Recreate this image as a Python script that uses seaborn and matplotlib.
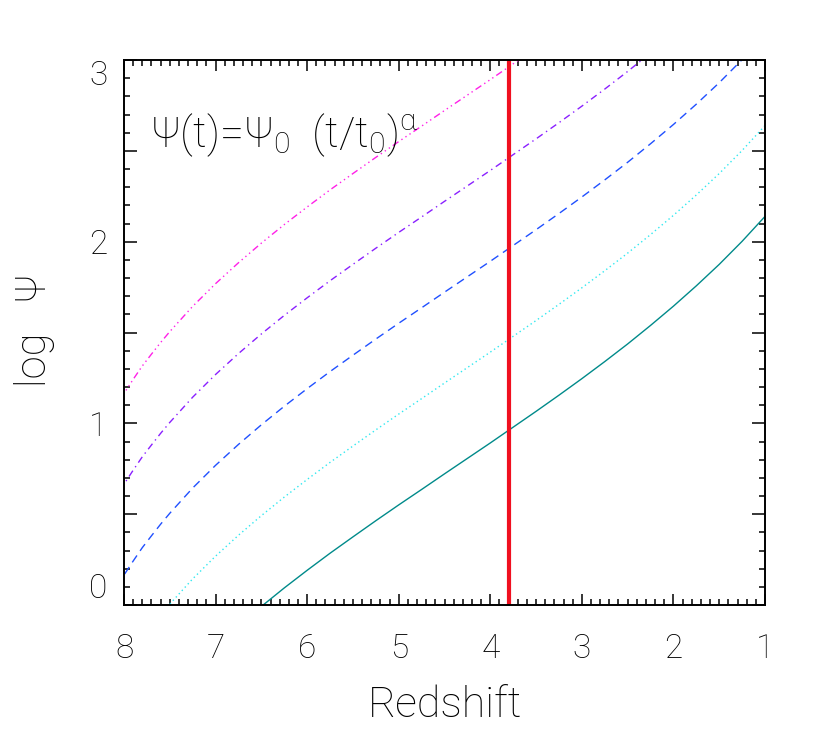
import numpy as np
import pandas as pd
import matplotlib
matplotlib.use("Agg")
import matplotlib.pyplot as plt
import seaborn as sns
from matplotlib.ticker import MultipleLocator

# redshift grid
redshift = [8.0, 7.9, 7.8, 7.7, 7.6, 7.5, 7.25, 7.0, 6.75, 6.5, 6.25, 6.0, 5.75, 5.5,
            5.25, 5.0, 4.75, 4.5, 4.25, 4.0, 3.75, 3.5, 3.25, 3.0, 2.75, 2.5, 2.25,
            2.0, 1.75, 1.5, 1.25, 1.0]

# log Psi for each curve (lowest to highest)
psi_solid = [-0.835, -0.758, -0.684, -0.619, -0.555, -0.495, -0.356, -0.231, -0.116,
             -0.008, 0.094, 0.191, 0.285, 0.375, 0.464, 0.551, 0.636, 0.722, 0.807,
             0.892, 0.979, 1.066, 1.155, 1.246, 1.340, 1.437, 1.539, 1.645, 1.757,
             1.875, 2.002, 2.139]
psi_dotted = [-0.335, -0.258, -0.184, -0.119, -0.055, 0.005, 0.144, 0.269, 0.384,
              0.492, 0.594, 0.691, 0.785, 0.875, 0.964, 1.051, 1.136, 1.222, 1.307,
              1.392, 1.479, 1.566, 1.655, 1.746, 1.840, 1.937, 2.039, 2.145, 2.257,
              2.375, 2.502, 2.639]
psi_dashed = [0.165, 0.242, 0.316, 0.381, 0.445, 0.505, 0.644, 0.769, 0.884,
              0.992, 1.094, 1.191, 1.285, 1.375, 1.464, 1.551, 1.636, 1.722, 1.807,
              1.892, 1.979, 2.066, 2.155, 2.246, 2.340, 2.437, 2.539, 2.645, 2.757,
              2.875, 3.002, 3.139]
psi_dashdot = [0.665, 0.742, 0.816, 0.881, 0.945, 1.005, 1.144, 1.269, 1.384,
               1.492, 1.594, 1.691, 1.785, 1.875, 1.964, 2.051, 2.136, 2.222, 2.307,
               2.392, 2.479, 2.566, 2.655, 2.746, 2.840, 2.937, 3.039, 3.145, 3.257,
               3.375, 3.502, 3.639]
psi_dash3dot = [1.165, 1.242, 1.316, 1.381, 1.445, 1.505, 1.644, 1.769, 1.884,
                1.992, 2.094, 2.191, 2.285, 2.375, 2.464, 2.551, 2.636, 2.722, 2.807,
                2.892, 2.979, 3.066, 3.155, 3.246, 3.340, 3.437, 3.539, 3.645, 3.757,
                3.875, 4.002, 4.139]

z_cut = 3.8

xticks = [8, 7, 6, 5, 4, 3, 2, 1]
xticklabels = ["8", "7", "6", "5", "4", "3", "2", "1"]
yticks = [0, 0.5, 1, 1.5, 2, 2.5, 3]
yticklabels = ["0", "", "1", "", "2", "", "3"]

sns.set_style("ticks")
plt.rcParams["font.family"] = ["Roboto", "DejaVu Sans"]
plt.rcParams["font.weight"] = "light"
plt.rcParams["axes.labelweight"] = "light"
plt.rcParams["text.color"] = "black"
plt.rcParams["axes.labelcolor"] = "black"
plt.rcParams["mathtext.default"] = "regular"

df = pd.DataFrame({"z": redshift, "solid": psi_solid, "dotted": psi_dotted,
                   "dashed": psi_dashed, "dashdot": psi_dashdot,
                   "dash3dot": psi_dash3dot})

fig = plt.figure(figsize=(8.3, 7.38), dpi=100)
ax = fig.add_axes([0.1494, 0.1802, 0.7723, 0.7385])

styles = [
    ("solid", "#008a8a", "-"),
    ("dotted", "#30e8f0", (0, (1, 2.2))),
    ("dashed", "#2050ff", (0, (6, 4))),
    ("dashdot", "#8a20ff", (0, (5, 3, 1, 3))),
    ("dash3dot", "#ff20e8", (0, (5, 2.5, 1, 2.5, 1, 2.5, 1, 2.5))),
]
for col, c, ls in styles:
    sns.lineplot(data=df, x="z", y=col, color=c, linestyle=ls, lw=1.0, ax=ax)

ax.axvline(z_cut, color="#f01020", lw=3.0)

ax.set_xlim(8, 1)
ax.set_ylim(0, 3)
ax.set_xticks(xticks)
ax.set_xticklabels(xticklabels)
ax.set_yticks(yticks)
ax.set_yticklabels(yticklabels)
ax.xaxis.set_minor_locator(MultipleLocator(0.1))
ax.yaxis.set_minor_locator(MultipleLocator(0.1))
ax.tick_params(which="both", direction="in", top=True, right=True,
               width=1.1, labelsize=24, colors="black")
ax.tick_params(axis="x", which="major", length=8, pad=20)
ax.tick_params(axis="y", which="major", length=9.5, pad=12)
ax.tick_params(which="minor", length=4)
for s in ax.spines.values():
    s.set_linewidth(1.4)
    s.set_color("black")

ylabs = ax.get_yticklabels()
ylabs[0].set_va("bottom")
ylabs[-1].set_va("top")

ax.set_xlabel("Redshift", fontsize=31, fontweight="light")
ax.xaxis.set_label_coords(0.5, -0.147)
ax.set_ylabel("log   Ψ", fontsize=30, fontweight="light")
ax.yaxis.set_label_coords(-0.108, 0.505)

ax.text(0.04, 0.862, "Ψ(t)=Ψ$_0$  (t/t$_0$)$^α$", transform=ax.transAxes,
        fontsize=31, va="center", ha="left", color="black")

fig.savefig("out.png", dpi=100)
